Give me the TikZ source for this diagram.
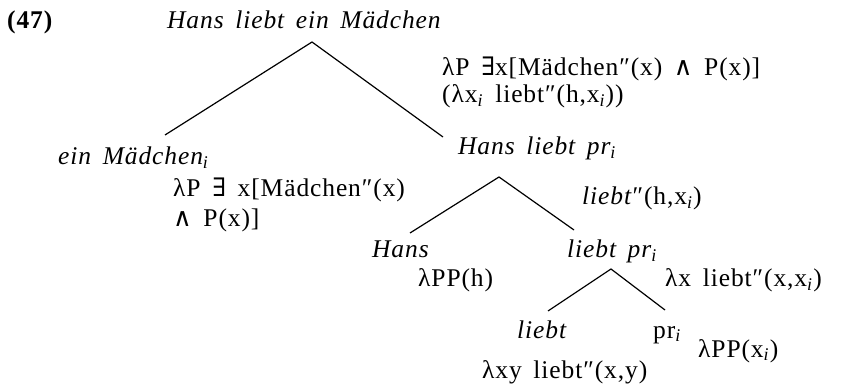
\documentclass[tikz,border=0pt]{standalone}
\usepackage{fontspec}
\setmainfont{Liberation Serif}[LetterSpace=3.5,WordSpace=1.6]
\newfontfamily\symf{DejaVu Serif}
\newcommand\exq{{\symf ∃}}
\newcommand\conj{{\symf ∧}}
\newcommand\dpr{″}
\newcommand\sub[1]{\textsubscript{\textit{#1}}}
\begin{document}
\begin{tikzpicture}[x=1pt,y=-1pt,
  lab/.style={anchor=base west,inner sep=0pt,font=\fontsize{25.5}{30}\selectfont},
  cat/.style={lab,font=\fontsize{25.5}{30}\selectfont\itshape},
  branch/.style={line width=1.2pt}]
\useasboundingbox (0,0) rectangle (851,387);

% example number and root
\node[lab] (num) at (7,29) {\bfseries (47)};
\node[cat] (root) at (167,29) {Hans liebt ein Mädchen};
\node[lab] (rootsemA) at (442,76) {λP \exq x[Mädchen\dpr(x) \conj\ P(x)]};
\node[lab] (rootsemB) at (442,103) {(λx\sub{i} liebt\dpr(h,x\sub{i}))};

% first level
\node[cat] (dp) at (58,165) {ein Mädchen\sub{i}};
\node[lab] (dpsemA) at (173,197) {λP \exq\ x[Mädchen\dpr(x)};
\node[lab] (dpsemB) at (173,227) {\conj\ P(x)]};
\node[cat] (s) at (458,155) {Hans liebt pr\sub{i}};
\node[lab] (ssem) at (582,205) {\textit{liebt}\dpr(h,x\sub{i})};

% second level
\node[cat] (hans) at (372,258) {Hans};
\node[lab] (hanssem) at (418,287) {λPP(h)};
\node[cat] (vp) at (567,258) {liebt pr\sub{i}};
\node[lab] (vpsem) at (665,287) {λx liebt\dpr(x,x\sub{i})};

% third level
\node[cat] (v) at (517,338) {liebt};
\node[lab] (vsem) at (482,378) {λxy liebt\dpr(x,y)};
\node[lab] (pr) at (653,338) {pr\sub{i}};
\node[lab] (prsem) at (698,357) {λPP(x\sub{i})};

% branch points
\coordinate (rootTop) at (312,42);
\coordinate (dpTop) at (165,135);
\coordinate (sTop) at (443,137);
\coordinate (sApex) at (499,177);
\coordinate (hansTop) at (410,233);
\coordinate (vpTop) at (574,230);
\coordinate (vpApex) at (611,269);
\coordinate (vTop) at (548,311);
\coordinate (prTop) at (665,310);

\draw[branch] (dpTop) -- (rootTop) -- (sTop);
\draw[branch] (hansTop) -- (sApex) -- (vpTop);
\draw[branch] (vTop) -- (vpApex) -- (prTop);
\end{tikzpicture}
\end{document}
